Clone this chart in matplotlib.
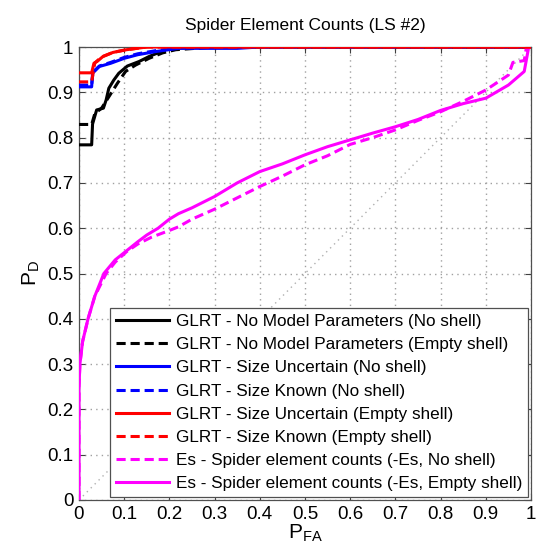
import matplotlib
matplotlib.use("Agg")
import matplotlib.pyplot as plt

plt.rcParams['font.family'] = ['Liberation Sans', 'DejaVu Sans']
plt.rcParams['mathtext.fontset'] = 'custom'
plt.rcParams['mathtext.rm'] = 'Liberation Sans'
plt.rcParams['mathtext.it'] = 'Liberation Sans'

title = "Spider Element Counts (LS #2)"
xlabel = r"$\mathrm{P}_{\mathrm{FA}}$"
ylabel = r"$\mathrm{P}_{\mathrm{D}}$"
ticks = [0, 0.1, 0.2, 0.3, 0.4, 0.5, 0.6, 0.7, 0.8, 0.9, 1]
tick_labels = ["0", "0.1", "0.2", "0.3", "0.4", "0.5", "0.6", "0.7", "0.8", "0.9", "1"]

# GLRT - No Model Parameters (No shell)
blk_solid_x = [0, 0.028, 0.030, 0.039, 0.054, 0.060, 0.066, 0.077, 0.088, 0.107, 0.133, 0.155, 0.177, 0.19, 0.22, 0.3, 1.0]
blk_solid_y = [0.784, 0.784, 0.83, 0.861, 0.865, 0.883, 0.909, 0.927, 0.942, 0.958, 0.968, 0.979, 0.988, 0.994, 0.998, 1.0, 1.0]
# GLRT - No Model Parameters (Empty shell)
blk_dash_x = [0, 0.028, 0.035, 0.05, 0.066, 0.085, 0.103, 0.125, 0.155, 0.185, 0.214, 0.3, 1.0]
blk_dash_y = [0.829, 0.829, 0.853, 0.865, 0.89, 0.92, 0.946, 0.96, 0.975, 0.987, 0.994, 1.0, 1.0]
# GLRT - Size Uncertain (No shell)
blu_solid_x = [0, 0.028, 0.030, 0.045, 0.07, 0.10, 0.13, 0.17, 0.22, 0.35, 0.4, 1.0]
blu_solid_y = [0.912, 0.912, 0.942, 0.957, 0.964, 0.975, 0.983, 0.99, 0.997, 0.997, 1.0, 1.0]
# GLRT - Size Known (No shell)
blu_dash_x = [0, 0.028, 0.031, 0.045, 0.07, 0.10, 0.13, 0.17, 0.22, 0.3, 1.0]
blu_dash_y = [0.916, 0.916, 0.945, 0.958, 0.966, 0.977, 0.985, 0.992, 0.998, 1.0, 1.0]
# GLRT - Size Uncertain (Empty shell)
red_solid_x = [0, 0.028, 0.033, 0.04, 0.053, 0.075, 0.105, 0.15, 1.0]
red_solid_y = [0.943, 0.943, 0.964, 0.968, 0.979, 0.988, 0.994, 1.0, 1.0]
# GLRT - Size Known (Empty shell)
red_dash_x = [0, 0.028, 0.035, 0.05, 0.075, 0.105, 0.15, 1.0]
red_dash_y = [0.923, 0.923, 0.965, 0.978, 0.988, 0.994, 1.0, 1.0]
# Es - Spider element counts (-Es, No shell)
mag_dash_x = [0, 0.0, 0.002, 0.008, 0.02, 0.035, 0.06, 0.08, 0.105, 0.13, 0.16, 0.2, 0.22, 0.25, 0.3, 0.35, 0.4, 0.45, 0.5, 0.55, 0.6, 0.65, 0.7, 0.75, 0.8, 0.85, 0.9, 0.95, 0.96, 0.985, 0.99, 1.0]
mag_dash_y = [0, 0.25, 0.30, 0.35, 0.40, 0.45, 0.50, 0.525, 0.548, 0.565, 0.58, 0.595, 0.603, 0.62, 0.642, 0.667, 0.692, 0.715, 0.74, 0.76, 0.785, 0.80, 0.817, 0.838, 0.857, 0.88, 0.905, 0.938, 0.966, 0.97, 1.0, 1.0]
# Es - Spider element counts (-Es, Empty shell)
mag_solid_x = [0, 0.0, 0.002, 0.008, 0.02, 0.035, 0.055, 0.08, 0.105, 0.13, 0.15, 0.175, 0.2, 0.22, 0.25, 0.3, 0.35, 0.4, 0.45, 0.5, 0.55, 0.6, 0.65, 0.7, 0.75, 0.8, 0.85, 0.9, 0.95, 0.985, 0.995, 1.0]
mag_solid_y = [0, 0.25, 0.30, 0.35, 0.40, 0.45, 0.50, 0.53, 0.55, 0.57, 0.585, 0.60, 0.62, 0.632, 0.645, 0.67, 0.70, 0.725, 0.742, 0.762, 0.78, 0.795, 0.81, 0.824, 0.84, 0.86, 0.875, 0.887, 0.916, 0.946, 1.0, 1.0]

labels = [
    "GLRT - No Model Parameters (No shell)",
    "GLRT - No Model Parameters (Empty shell)",
    "GLRT - Size Uncertain (No shell)",
    "GLRT - Size Known (No shell)",
    "GLRT - Size Uncertain (Empty shell)",
    "GLRT - Size Known (Empty shell)",
    "Es - Spider element counts (-Es, No shell)",
    "Es - Spider element counts (-Es, Empty shell)",
]

fig = plt.figure(figsize=(5.44, 5.47), dpi=100)
ax = fig.add_axes([79/544, 47/547, 452/544, 453/547])

lw = 2.2
ax.plot([0, 1], [0, 1], linestyle=(0, (1, 3)), color='#b0b0b0', lw=1, zorder=1)
ax.plot(blk_solid_x, blk_solid_y, color='black', lw=lw, label=labels[0], zorder=3)
ax.plot(blk_dash_x, blk_dash_y, color='black', lw=lw, ls=(0, (3, 1.6)), label=labels[1], zorder=3)
ax.plot(blu_solid_x, blu_solid_y, color='#0000ff', lw=lw, label=labels[2], zorder=3)
ax.plot(blu_dash_x, blu_dash_y, color='#0000ff', lw=lw, ls=(0, (3, 1.6)), label=labels[3], zorder=3)
ax.plot(red_solid_x, red_solid_y, color='#ff0000', lw=lw, label=labels[4], zorder=4)
ax.plot(red_dash_x, red_dash_y, color='#ff0000', lw=lw, ls=(0, (3, 1.6)), label=labels[5], zorder=4)
ax.plot(mag_dash_x, mag_dash_y, color='#ff00ff', lw=lw, ls=(0, (3, 1.6)), label=labels[6], zorder=3)
ax.plot(mag_solid_x, mag_solid_y, color='#ff00ff', lw=lw, label=labels[7], zorder=3)

ax.set_xlim(0, 1)
ax.set_ylim(0, 1)
ax.set_xticks(ticks)
ax.set_xticklabels(tick_labels)
ax.set_yticks(ticks)
ax.set_yticklabels(tick_labels)
ax.tick_params(direction='in', top=True, right=True, labelsize=13.5, length=4, width=0.8, color='#404040', pad=4)
ax.grid(True, linestyle=(0, (1, 3)), color='#a0a0a0', lw=1)
for s in ax.spines.values():
    s.set_color('#505050')
    s.set_linewidth(0.9)

ax.set_title(title, fontsize=12.5, pad=12)
ax.set_xlabel(xlabel, fontsize=15, labelpad=0)
ax.set_ylabel(ylabel, fontsize=15, labelpad=4)

leg = ax.legend(loc='lower right', fontsize=12.3, handlelength=3.1, handletextpad=0.4,
                labelspacing=0.48, borderpad=0.35, borderaxespad=0.15, fancybox=False,
                framealpha=1, edgecolor='#505050')
leg.get_frame().set_linewidth(0.9)

fig.savefig("out.png", dpi=100)
